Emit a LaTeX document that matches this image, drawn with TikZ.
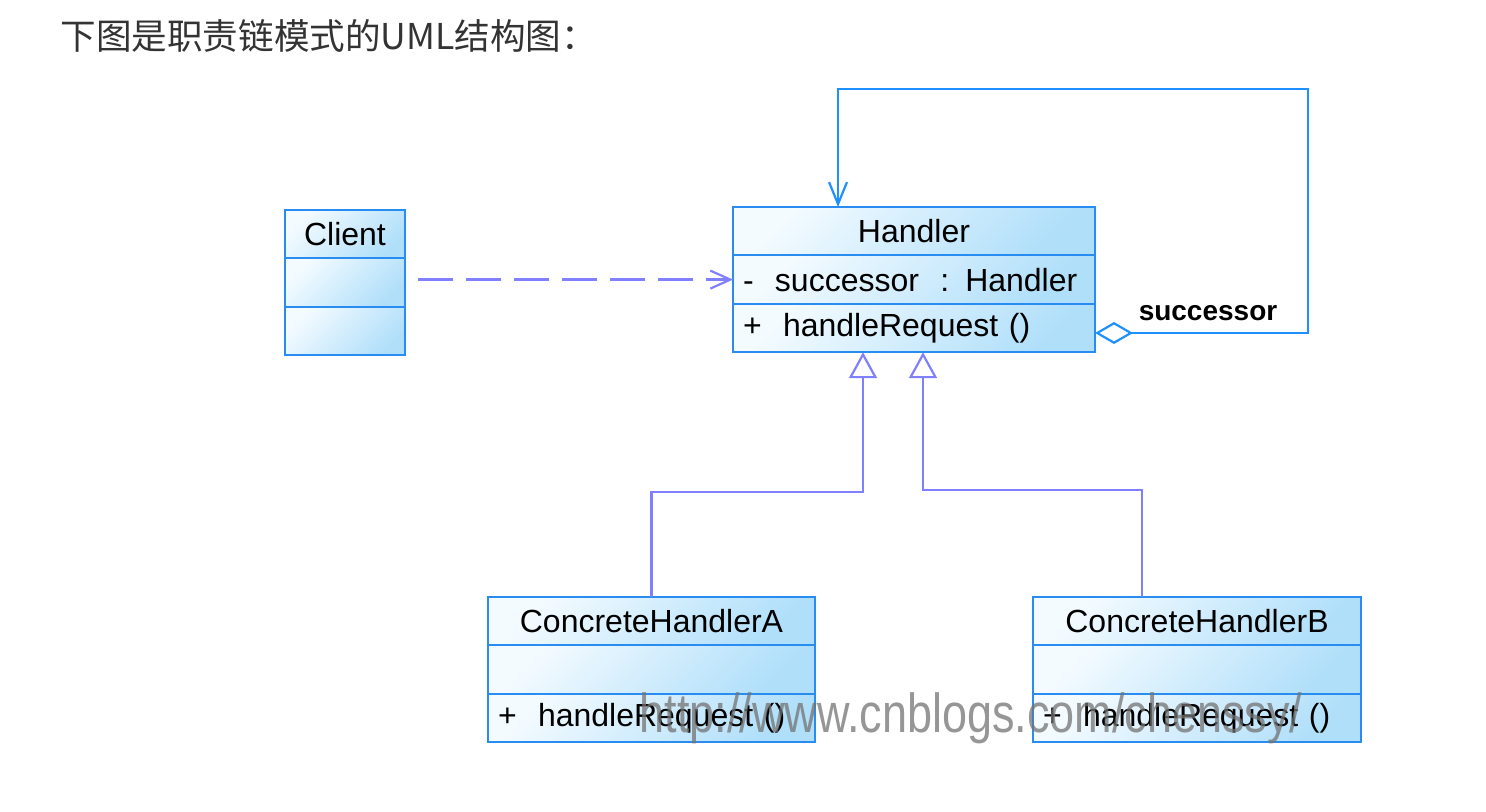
\documentclass[tikz,border=0pt]{standalone}
\usepackage{fontspec}
\setmainfont{Liberation Sans}
\newfontfamily\cjkfont{Noto Sans CJK SC}
\usepackage{tikz}
\usetikzlibrary{arrows.meta,calc,positioning}
\definecolor{umlborder}{RGB}{40,140,240}
\definecolor{umllight}{RGB}{244,251,255}
\definecolor{umldark}{RGB}{176,223,250}
\definecolor{linkpurple}{RGB}{128,128,255}
\definecolor{assocblue}{RGB}{30,144,255}

\begin{document}
\begin{tikzpicture}[x=0.5pt, y=-0.5pt, node distance=0pt,
    classpart/.style={draw=umlborder, line width=1pt, top color=umllight, bottom color=umldark, shading angle=45,
        text width=#1, minimum width=#1+10pt, minimum height=24.2pt, inner xsep=5pt, inner ysep=0pt, outer sep=0pt,
        align=left, font=\fontsize{16}{19}\selectfont},
    classname/.style={classpart=#1, align=center},
    depend/.style={draw=linkpurple, line width=1.1pt, dash pattern=on 17.5pt off 6.5pt, -{Straight Barb[length=10pt, width=9pt]}},
    inherit/.style={draw=linkpurple, line width=1.1pt, -{Triangle[open, length=13pt, width=14pt]}},
    selfassoc/.style={draw=assocblue, line width=1.1pt, {Diamond[open, length=19pt, width=11pt]}-{Straight Barb[length=11pt, width=9pt]}}]
    \useasboundingbox (0,0) rectangle (1486,812);

    % Caption
    \node[anchor=base west, inner sep=0pt, text=black!80, font=\cjkfont\fontsize{17.8}{21}\selectfont] (caption) at (60,50) {下图是职责链模式的UML结构图：};

    % Client
    \node[classname=50pt] (cName) at (345,234.2) {Client};
    \node[classpart=50pt, below=of cName] (cAttr) {};
    \node[classpart=50pt, below=of cAttr] (cMeth) {};

    % Handler
    \node[classname=171pt] (hName) at (914,231.2) {Handler};
    \node[classpart=171pt, below=of hName] (hAttr) {-\ \ successor \ : Handler};
    \node[classpart=171pt, below=of hAttr] (hMeth) {+\ \ handleRequest ()};

    % ConcreteHandlerA
    \node[classname=153.5pt] (aName) at (651.5,621.2) {ConcreteHandlerA};
    \node[classpart=153.5pt, below=of aName] (aAttr) {};
    \node[classpart=153.5pt, below=of aAttr] (aMeth) {+\ \ handleRequest ()};

    % ConcreteHandlerB
    \node[classname=154pt] (bName) at (1197,621.2) {ConcreteHandlerB};
    \node[classpart=154pt, below=of bName] (bAttr) {};
    \node[classpart=154pt, below=of bAttr] (bMeth) {+\ \ handleRequest ()};

    % Bends
    \coordinate (loopR) at (1308,89);
    \coordinate (loopL) at (838,89);
    \coordinate (kneeA) at (863,492);
    \coordinate (dropB) at (1142,490);
    \coordinate (kneeB) at (923,490);

    % Arrows
    \draw[depend] ($(cAttr.east |- hAttr.west)+(13,0)$) -- (hAttr.west);
    \draw[selfassoc] ([yshift=-2.5pt]hMeth.east) -| (loopR) -| (hName.north -| loopL);
    \node[inner sep=0pt, font=\bfseries\fontsize{14}{16}\selectfont] (succLabel) at (1208,313) {successor};
    \draw[inherit] (aName.north) |- (kneeA) -- (kneeA |- hMeth.south);
    \draw[inherit] (dropB |- bName.north) |- (kneeB) -- (kneeB |- hMeth.south);

    % Watermark
    \node[inner sep=0pt, text=black!55, text opacity=0.75, font=\fontsize{25}{28}\selectfont] (wmark) at (971,718) {\scalebox{0.9}[1.1]{http://www.cnblogs.com/chenssy/}};
\end{tikzpicture}
\end{document}
